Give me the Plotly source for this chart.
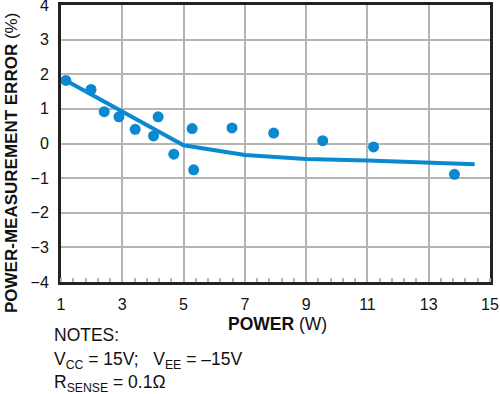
import plotly.graph_objects as go

# Measured points
meas_power = [1.16, 1.98, 2.41, 2.89, 3.42, 4.02, 4.17, 4.68, 5.28, 5.33, 6.58, 7.94, 9.54, 11.2, 13.84]
meas_error = [1.82, 1.56, 0.92, 0.77, 0.41, 0.22, 0.77, -0.31, 0.43, -0.76, 0.45, 0.30, 0.08, -0.10, -0.89]

# Fitted curve
fit_power = [1.1, 5.0, 7.0, 9.0, 11.0, 13.0, 14.5]
fit_error = [1.85, -0.05, -0.33, -0.45, -0.49, -0.54, -0.60]

x_ticks = [1, 3, 5, 7, 9, 11, 13, 15]
y_ticks = [-4, -3, -2, -1, 0, 1, 2, 3, 4]

BLUE = "#0a89d0"
GRID = "#b4b4b4"
AXIS = "#222222"
FONT = "Liberation Sans, Arial, sans-serif"

L, R, T, B = 61, 10, 5, 112
W, H = 500, 394
PW, PH = W - L - R, H - T - B


def px_x(px):
    return (px - L) / PW


def px_y(py):
    return (H - B - py) / PH


fig = go.Figure()
fig.add_trace(go.Scatter(x=fit_power, y=fit_error, mode="lines",
                         line=dict(color=BLUE, width=4), hoverinfo="skip"))
fig.add_trace(go.Scatter(x=meas_power, y=meas_error, mode="markers",
                         marker=dict(color=BLUE, size=11, line=dict(width=0))))

fig.update_layout(
    width=W, height=H,
    margin=dict(l=L, r=R, t=T, b=B, autoexpand=False),
    paper_bgcolor="white", plot_bgcolor="white",
    showlegend=False,
    font=dict(family=FONT, size=16, color="#111111"),
    xaxis=dict(range=[1, 15], tickvals=x_ticks, ticktext=[str(v) for v in x_ticks],
               showgrid=True, gridcolor=GRID, gridwidth=2, automargin=False,
               showline=True, linecolor=AXIS, linewidth=3, mirror=True,
               ticks="", zeroline=False, ticklabelstandoff=6, ticklabeloverflow="allow",
               minor=dict(tick0=1, dtick=0.4, ticks="inside", ticklen=4,
                          tickcolor=GRID, tickwidth=2, showgrid=False)),
    yaxis=dict(range=[-4, 4], tickvals=y_ticks, automargin=False,
               showgrid=True, gridcolor=GRID, gridwidth=2,
               showline=True, linecolor=AXIS, linewidth=3, mirror=True,
               ticks="", zeroline=False, ticklabelstandoff=6, ticklabeloverflow="allow"),
)

fig.add_annotation(text="<b>POWER-MEASUREMENT ERROR</b> (%)", xref="paper", yref="paper",
                   x=px_x(11), y=px_y(163), xanchor="center", yanchor="middle", textangle=-90,
                   showarrow=False, font=dict(size=17, family=FONT))
fig.add_annotation(text="<b>POWER</b> (W)", xref="paper", yref="paper",
                   x=px_x(277), y=px_y(324), xanchor="center", yanchor="middle",
                   showarrow=False, font=dict(size=17.5, family=FONT))
notes = ["NOTES:", "V<sub>CC</sub> = 15V;   V<sub>EE</sub> = \u201315V", "R<sub>SENSE</sub> = 0.1\u03a9"]
ys = [335, 360, 383]
for t, yy in zip(notes, ys):
    fig.add_annotation(text=t, xref="paper", yref="paper", x=px_x(52), y=px_y(yy),
                       xanchor="left", yanchor="middle", showarrow=False,
                       font=dict(size=17.5, family=FONT))

fig.write_html("out.html", config={"displayModeBar": False},
               post_script="document.body.style.margin='0';")
